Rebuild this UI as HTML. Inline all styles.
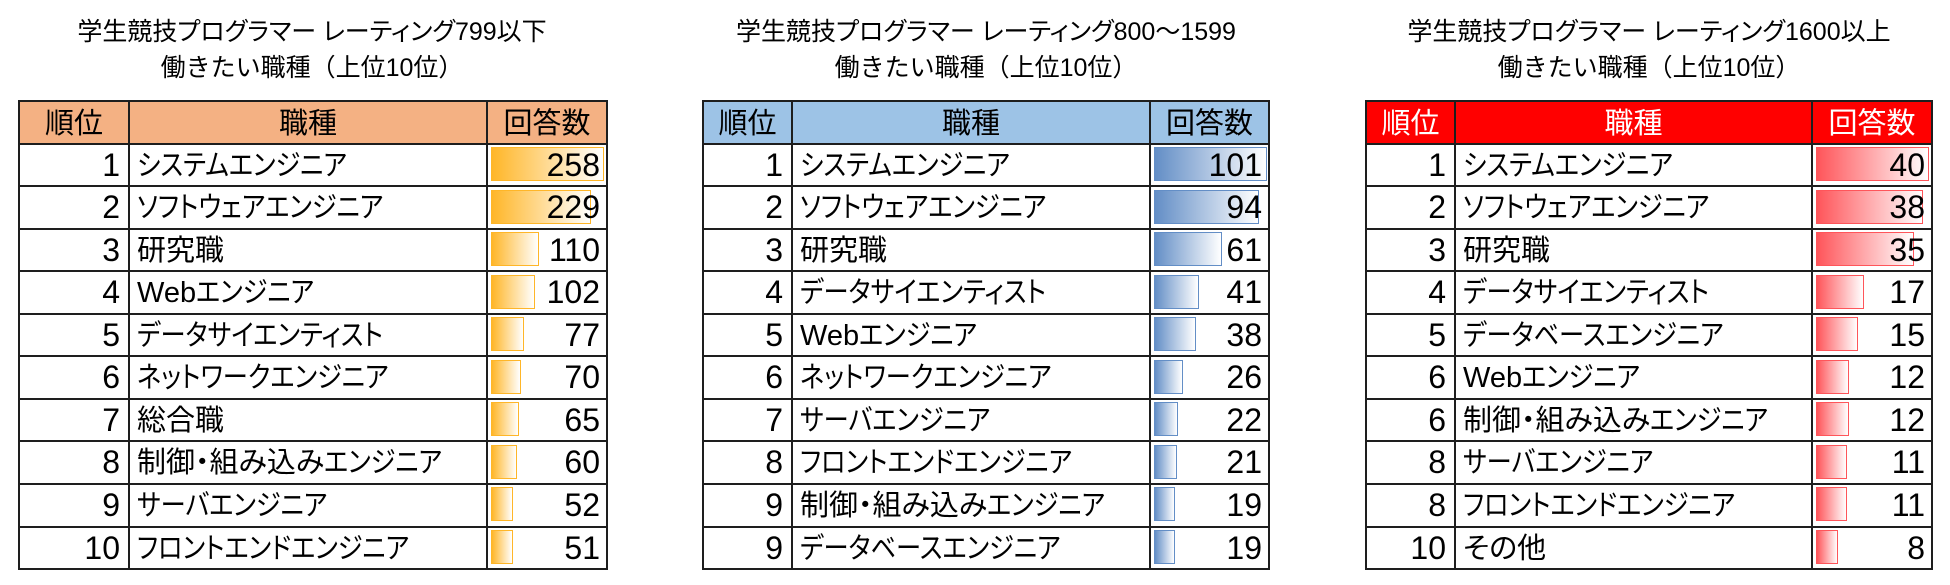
<!DOCTYPE html>
<html><head><meta charset="utf-8">
<style>
html,body{margin:0;padding:0;background:#fff;}
body{width:1950px;height:585px;position:relative;overflow:hidden;color:#000;}
.ti{position:absolute;width:700px;text-align:center;font-family:"Liberation Sans","Noto Sans CJK JP",sans-serif;font-size:25px;line-height:36px;white-space:nowrap;}
.ti1{top:14px;font-feature-settings:"palt";}
.ti2{top:50px;}
.tb{position:absolute;top:101px;height:468px;}
.hd{position:absolute;left:0;top:0;height:42.55px;width:100%;}
.h{position:absolute;height:2px;background:#1e1e1e;left:-1px;right:-1px;}
.v{position:absolute;width:2px;background:#1e1e1e;top:-1px;height:470px;}
.hc{position:absolute;top:2px;height:42.55px;line-height:42.55px;text-align:center;font-family:"Liberation Sans","Noto Sans CJK JP",sans-serif;font-size:29px;white-space:nowrap;}
.r{position:absolute;height:42.55px;line-height:42.55px;white-space:nowrap;font-family:"Liberation Sans",sans-serif;font-size:32px;text-align:right;}
.n{position:absolute;height:42.55px;line-height:42.55px;margin-top:1px;white-space:nowrap;font-family:"Liberation Sans","Noto Sans CJK JP",sans-serif;font-size:29px;font-feature-settings:"palt";}
.n i{font-style:normal;display:inline-block;transform:scaleX(0.87);transform-origin:0 50%;}
.b{position:absolute;height:34px;box-sizing:border-box;border:1px solid;}
.bo{border-color:#FFB628;background:linear-gradient(90deg,#FFB628 0%,#FFFFFF 100%);}
.bb{border-color:#638EC6;background:linear-gradient(90deg,#638EC6 0%,#FFFFFF 100%);}
.br{border-color:#FF555A;background:linear-gradient(90deg,#FF555A 0%,#FFFFFF 100%);}
</style></head><body>

<!-- Titles -->
<div class="ti ti1" style="left:-38px;">学生競技プログラマー レーティング799以下</div>
<div class="ti ti2" style="left:-38px;">働きたい職種（上位10位）</div>
<div class="ti ti1" style="left:636px;">学生競技プログラマー レーティング800～1599</div>
<div class="ti ti2" style="left:636px;">働きたい職種（上位10位）</div>
<div class="ti ti1" style="left:1299px;">学生競技プログラマー レーティング1600以上</div>
<div class="ti ti2" style="left:1299px;">働きたい職種（上位10位）</div>

<!-- TABLE 1 : left 19, w1 110, w2 358, w3 120 -->
<div class="tb" style="left:19px;width:588px;">
  <div class="hd" style="background:#F4B183;"></div>
  <div class="b bo" style="left:471.5px;top:46.05px;width:113px;"></div>
  <div class="b bo" style="left:471.5px;top:88.6px;width:100.3px;"></div>
  <div class="b bo" style="left:471.5px;top:131.15px;width:48.2px;"></div>
  <div class="b bo" style="left:471.5px;top:173.7px;width:44.7px;"></div>
  <div class="b bo" style="left:471.5px;top:216.25px;width:33.7px;"></div>
  <div class="b bo" style="left:471.5px;top:258.8px;width:30.7px;"></div>
  <div class="b bo" style="left:471.5px;top:301.35px;width:28.5px;"></div>
  <div class="b bo" style="left:471.5px;top:343.9px;width:26.3px;"></div>
  <div class="b bo" style="left:471.5px;top:386.45px;width:22.8px;"></div>
  <div class="b bo" style="left:471.5px;top:429px;width:22.3px;"></div>
  <div class="h" style="top:-1px;"></div>
  <div class="h" style="top:41.55px;"></div>
  <div class="h" style="top:84.1px;"></div>
  <div class="h" style="top:126.65px;"></div>
  <div class="h" style="top:169.2px;"></div>
  <div class="h" style="top:211.75px;"></div>
  <div class="h" style="top:254.3px;"></div>
  <div class="h" style="top:296.85px;"></div>
  <div class="h" style="top:339.4px;"></div>
  <div class="h" style="top:381.95px;"></div>
  <div class="h" style="top:424.5px;"></div>
  <div class="h" style="top:467.05px;"></div>
  <div class="v" style="left:-1px;"></div>
  <div class="v" style="left:109px;"></div>
  <div class="v" style="left:467px;"></div>
  <div class="v" style="left:587px;"></div>
  <div class="hc" style="left:0;width:110px;">順位</div>
  <div class="hc" style="left:110px;width:358px;">職種</div>
  <div class="hc" style="left:468px;width:120px;">回答数</div>
  <div class="r" style="left:0;width:101px;top:42.55px;">1</div>
  <div class="r" style="left:0;width:101px;top:85.1px;">2</div>
  <div class="r" style="left:0;width:101px;top:127.65px;">3</div>
  <div class="r" style="left:0;width:101px;top:170.2px;">4</div>
  <div class="r" style="left:0;width:101px;top:212.75px;">5</div>
  <div class="r" style="left:0;width:101px;top:255.3px;">6</div>
  <div class="r" style="left:0;width:101px;top:297.85px;">7</div>
  <div class="r" style="left:0;width:101px;top:340.4px;">8</div>
  <div class="r" style="left:0;width:101px;top:382.95px;">9</div>
  <div class="r" style="left:0;width:101px;top:425.5px;">10</div>
  <div class="n" style="left:118px;top:42.55px;"><i>システムエンジニア</i></div>
  <div class="n" style="left:118px;top:85.1px;"><i>ソフトウェアエンジニア</i></div>
  <div class="n" style="left:118px;top:127.65px;">研究職</div>
  <div class="n" style="left:118px;top:170.2px;">Web<i>エンジニア</i></div>
  <div class="n" style="left:118px;top:212.75px;"><i>データサイエンティスト</i></div>
  <div class="n" style="left:118px;top:255.3px;"><i>ネットワークエンジニア</i></div>
  <div class="n" style="left:118px;top:297.85px;">総合職</div>
  <div class="n" style="left:118px;top:340.4px;">制御・組み込み<i>エンジニア</i></div>
  <div class="n" style="left:118px;top:382.95px;"><i>サーバエンジニア</i></div>
  <div class="n" style="left:118px;top:425.5px;"><i>フロントエンドエンジニア</i></div>
  <div class="r" style="left:468px;width:113px;top:42.55px;">258</div>
  <div class="r" style="left:468px;width:113px;top:85.1px;">229</div>
  <div class="r" style="left:468px;width:113px;top:127.65px;">110</div>
  <div class="r" style="left:468px;width:113px;top:170.2px;">102</div>
  <div class="r" style="left:468px;width:113px;top:212.75px;">77</div>
  <div class="r" style="left:468px;width:113px;top:255.3px;">70</div>
  <div class="r" style="left:468px;width:113px;top:297.85px;">65</div>
  <div class="r" style="left:468px;width:113px;top:340.4px;">60</div>
  <div class="r" style="left:468px;width:113px;top:382.95px;">52</div>
  <div class="r" style="left:468px;width:113px;top:425.5px;">51</div>
</div>

<!-- TABLE 2 : left 703, w1 89, w2 358, w3 119 -->
<div class="tb" style="left:703px;width:566px;">
  <div class="hd" style="background:#9DC3E6;"></div>
  <div class="b bb" style="left:450.5px;top:46.05px;width:113px;"></div>
  <div class="b bb" style="left:450.5px;top:88.6px;width:105.2px;"></div>
  <div class="b bb" style="left:450.5px;top:131.15px;width:68.2px;"></div>
  <div class="b bb" style="left:450.5px;top:173.7px;width:45.9px;"></div>
  <div class="b bb" style="left:450.5px;top:216.25px;width:42.5px;"></div>
  <div class="b bb" style="left:450.5px;top:258.8px;width:29.1px;"></div>
  <div class="b bb" style="left:450.5px;top:301.35px;width:24.6px;"></div>
  <div class="b bb" style="left:450.5px;top:343.9px;width:23.5px;"></div>
  <div class="b bb" style="left:450.5px;top:386.45px;width:21.3px;"></div>
  <div class="b bb" style="left:450.5px;top:429px;width:21.3px;"></div>
  <div class="h" style="top:-1px;"></div>
  <div class="h" style="top:41.55px;"></div>
  <div class="h" style="top:84.1px;"></div>
  <div class="h" style="top:126.65px;"></div>
  <div class="h" style="top:169.2px;"></div>
  <div class="h" style="top:211.75px;"></div>
  <div class="h" style="top:254.3px;"></div>
  <div class="h" style="top:296.85px;"></div>
  <div class="h" style="top:339.4px;"></div>
  <div class="h" style="top:381.95px;"></div>
  <div class="h" style="top:424.5px;"></div>
  <div class="h" style="top:467.05px;"></div>
  <div class="v" style="left:-1px;"></div>
  <div class="v" style="left:88px;"></div>
  <div class="v" style="left:446px;"></div>
  <div class="v" style="left:565px;"></div>
  <div class="hc" style="left:0;width:89px;">順位</div>
  <div class="hc" style="left:89px;width:358px;">職種</div>
  <div class="hc" style="left:447px;width:119px;">回答数</div>
  <div class="r" style="left:0;width:80px;top:42.55px;">1</div>
  <div class="r" style="left:0;width:80px;top:85.1px;">2</div>
  <div class="r" style="left:0;width:80px;top:127.65px;">3</div>
  <div class="r" style="left:0;width:80px;top:170.2px;">4</div>
  <div class="r" style="left:0;width:80px;top:212.75px;">5</div>
  <div class="r" style="left:0;width:80px;top:255.3px;">6</div>
  <div class="r" style="left:0;width:80px;top:297.85px;">7</div>
  <div class="r" style="left:0;width:80px;top:340.4px;">8</div>
  <div class="r" style="left:0;width:80px;top:382.95px;">9</div>
  <div class="r" style="left:0;width:80px;top:425.5px;">9</div>
  <div class="n" style="left:97px;top:42.55px;"><i>システムエンジニア</i></div>
  <div class="n" style="left:97px;top:85.1px;"><i>ソフトウェアエンジニア</i></div>
  <div class="n" style="left:97px;top:127.65px;">研究職</div>
  <div class="n" style="left:97px;top:170.2px;"><i>データサイエンティスト</i></div>
  <div class="n" style="left:97px;top:212.75px;">Web<i>エンジニア</i></div>
  <div class="n" style="left:97px;top:255.3px;"><i>ネットワークエンジニア</i></div>
  <div class="n" style="left:97px;top:297.85px;"><i>サーバエンジニア</i></div>
  <div class="n" style="left:97px;top:340.4px;"><i>フロントエンドエンジニア</i></div>
  <div class="n" style="left:97px;top:382.95px;">制御・組み込み<i>エンジニア</i></div>
  <div class="n" style="left:97px;top:425.5px;"><i>データベースエンジニア</i></div>
  <div class="r" style="left:447px;width:112px;top:42.55px;">101</div>
  <div class="r" style="left:447px;width:112px;top:85.1px;">94</div>
  <div class="r" style="left:447px;width:112px;top:127.65px;">61</div>
  <div class="r" style="left:447px;width:112px;top:170.2px;">41</div>
  <div class="r" style="left:447px;width:112px;top:212.75px;">38</div>
  <div class="r" style="left:447px;width:112px;top:255.3px;">26</div>
  <div class="r" style="left:447px;width:112px;top:297.85px;">22</div>
  <div class="r" style="left:447px;width:112px;top:340.4px;">21</div>
  <div class="r" style="left:447px;width:112px;top:382.95px;">19</div>
  <div class="r" style="left:447px;width:112px;top:425.5px;">19</div>
</div>

<!-- TABLE 3 : left 1366, w1 89, w2 357, w3 120 -->
<div class="tb" style="left:1366px;width:566px;">
  <div class="hd" style="background:#FF0000;"></div>
  <div class="b br" style="left:449.5px;top:46.05px;width:113px;"></div>
  <div class="b br" style="left:449.5px;top:88.6px;width:107.4px;"></div>
  <div class="b br" style="left:449.5px;top:131.15px;width:98.9px;"></div>
  <div class="b br" style="left:449.5px;top:173.7px;width:48px;"></div>
  <div class="b br" style="left:449.5px;top:216.25px;width:42.4px;"></div>
  <div class="b br" style="left:449.5px;top:258.8px;width:33.9px;"></div>
  <div class="b br" style="left:449.5px;top:301.35px;width:33.9px;"></div>
  <div class="b br" style="left:449.5px;top:343.9px;width:31.1px;"></div>
  <div class="b br" style="left:449.5px;top:386.45px;width:31.1px;"></div>
  <div class="b br" style="left:449.5px;top:429px;width:22.6px;"></div>
  <div class="h" style="top:-1px;"></div>
  <div class="h" style="top:41.55px;"></div>
  <div class="h" style="top:84.1px;"></div>
  <div class="h" style="top:126.65px;"></div>
  <div class="h" style="top:169.2px;"></div>
  <div class="h" style="top:211.75px;"></div>
  <div class="h" style="top:254.3px;"></div>
  <div class="h" style="top:296.85px;"></div>
  <div class="h" style="top:339.4px;"></div>
  <div class="h" style="top:381.95px;"></div>
  <div class="h" style="top:424.5px;"></div>
  <div class="h" style="top:467.05px;"></div>
  <div class="v" style="left:-1px;"></div>
  <div class="v" style="left:88px;"></div>
  <div class="v" style="left:445px;"></div>
  <div class="v" style="left:565px;"></div>
  <div class="hc" style="left:0;width:89px;color:#fff;">順位</div>
  <div class="hc" style="left:89px;width:357px;color:#fff;">職種</div>
  <div class="hc" style="left:446px;width:120px;color:#fff;">回答数</div>
  <div class="r" style="left:0;width:80px;top:42.55px;">1</div>
  <div class="r" style="left:0;width:80px;top:85.1px;">2</div>
  <div class="r" style="left:0;width:80px;top:127.65px;">3</div>
  <div class="r" style="left:0;width:80px;top:170.2px;">4</div>
  <div class="r" style="left:0;width:80px;top:212.75px;">5</div>
  <div class="r" style="left:0;width:80px;top:255.3px;">6</div>
  <div class="r" style="left:0;width:80px;top:297.85px;">6</div>
  <div class="r" style="left:0;width:80px;top:340.4px;">8</div>
  <div class="r" style="left:0;width:80px;top:382.95px;">8</div>
  <div class="r" style="left:0;width:80px;top:425.5px;">10</div>
  <div class="n" style="left:97px;top:42.55px;"><i>システムエンジニア</i></div>
  <div class="n" style="left:97px;top:85.1px;"><i>ソフトウェアエンジニア</i></div>
  <div class="n" style="left:97px;top:127.65px;">研究職</div>
  <div class="n" style="left:97px;top:170.2px;"><i>データサイエンティスト</i></div>
  <div class="n" style="left:97px;top:212.75px;"><i>データベースエンジニア</i></div>
  <div class="n" style="left:97px;top:255.3px;">Web<i>エンジニア</i></div>
  <div class="n" style="left:97px;top:297.85px;">制御・組み込み<i>エンジニア</i></div>
  <div class="n" style="left:97px;top:340.4px;"><i>サーバエンジニア</i></div>
  <div class="n" style="left:97px;top:382.95px;"><i>フロントエンドエンジニア</i></div>
  <div class="n" style="left:97px;top:425.5px;">その他</div>
  <div class="r" style="left:446px;width:113px;top:42.55px;">40</div>
  <div class="r" style="left:446px;width:113px;top:85.1px;">38</div>
  <div class="r" style="left:446px;width:113px;top:127.65px;">35</div>
  <div class="r" style="left:446px;width:113px;top:170.2px;">17</div>
  <div class="r" style="left:446px;width:113px;top:212.75px;">15</div>
  <div class="r" style="left:446px;width:113px;top:255.3px;">12</div>
  <div class="r" style="left:446px;width:113px;top:297.85px;">12</div>
  <div class="r" style="left:446px;width:113px;top:340.4px;">11</div>
  <div class="r" style="left:446px;width:113px;top:382.95px;">11</div>
  <div class="r" style="left:446px;width:113px;top:425.5px;">8</div>
</div>

</body></html>
